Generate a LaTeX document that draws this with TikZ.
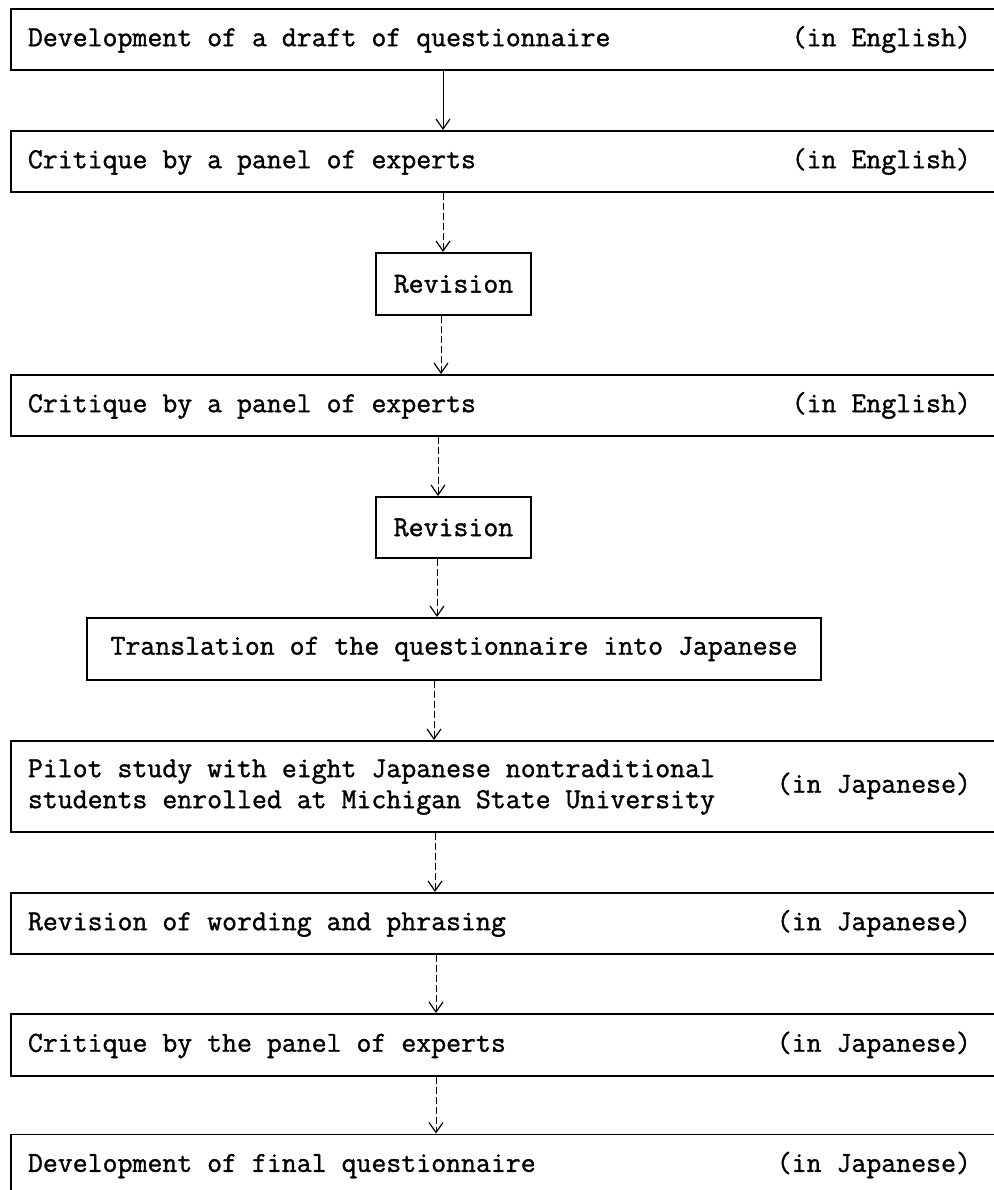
\documentclass[tikz,border=0pt]{standalone}
\usepackage{fontspec}
\newfontfamily\typew[FakeBold=1.2]{Latin Modern Mono}
\usetikzlibrary{arrows.meta,calc}
\begin{document}
\begin{tikzpicture}[x=1pt,y=-1pt,
  every node/.style={font=\fontsize{29}{31}\selectfont\typew},
  widebox/.style={draw,line width=1.9pt,rectangle,anchor=north west,inner xsep=17pt,inner ysep=0pt,minimum height=61pt},
  smallbox/.style={draw,line width=1.9pt,rectangle,anchor=north,inner xsep=0pt,inner ysep=0pt,minimum height=62pt},
  arr/.style={line width=1pt,-{Straight Barb[length=10pt,width=14pt,line width=1.2pt]}},
  darr/.style={arr,dash pattern=on 7pt off 3pt}]
\path[use as bounding box] (0,0) rectangle (993,1190);
\newcommand{\wline}[2]{\makebox[943pt][l]{#1\hfill#2}\hspace*{60pt}}
\node[widebox] (b1) at (10,8) {\wline{Development of a draft of questionnaire}{(in English)}};
\node[widebox] (b2) at (10,130) {\wline{Critique by a panel of experts}{(in English)}};
\node[smallbox,minimum width=155pt] (r1) at (453.5,252) {Revision};
\node[widebox] (b3) at (10,374) {\wline{Critique by a panel of experts}{(in English)}};
\node[smallbox,minimum width=155pt,minimum height=61pt] (r2) at (453.5,496) {Revision};
\node[smallbox,minimum width=734pt] (tr) at (454,617) {Translation of the questionnaire into Japanese};
\node[widebox,minimum height=91pt] (pi) at (10,740) {\wline{\begin{tabular}{@{}l@{}}Pilot study with eight Japanese nontraditional\\students enrolled at Michigan State University\end{tabular}}{(in Japanese)}};
\node[widebox] (wo) at (10,892) {\wline{Revision of wording and phrasing}{(in Japanese)}};
\node[widebox,minimum height=62pt] (cr) at (10,1013) {\wline{Critique by the panel of experts}{(in Japanese)}};
\node[widebox,minimum height=61pt,anchor=west] (fi) at (10,1165) {\wline{Development of final questionnaire}{(in Japanese)}};
\coordinate (x1) at (443,0);
\coordinate (x2) at (443,0);
\coordinate (x3) at (441,0);
\coordinate (x4) at (438,0);
\coordinate (x5) at (437,0);
\coordinate (x6) at (434,0);
\coordinate (x7) at (435,0);
\coordinate (x8) at (436,0);
\coordinate (x9) at (436,0);
\draw[arr] (b1.south -| x1) -- (b2.north -| x1);
\draw[darr] (b2.south -| x2) -- (r1.north -| x2);
\draw[darr] (r1.south -| x3) -- (b3.north -| x3);
\draw[darr] (b3.south -| x4) -- (r2.north -| x4);
\draw[darr] (r2.south -| x5) -- (tr.north -| x5);
\draw[darr] (tr.south -| x6) -- (pi.north -| x6);
\draw[darr] (pi.south -| x7) -- (wo.north -| x7);
\draw[darr] (wo.south -| x8) -- (cr.north -| x8);
\draw[darr] (cr.south -| x9) -- (fi.north -| x9);
\end{tikzpicture}
\end{document}
